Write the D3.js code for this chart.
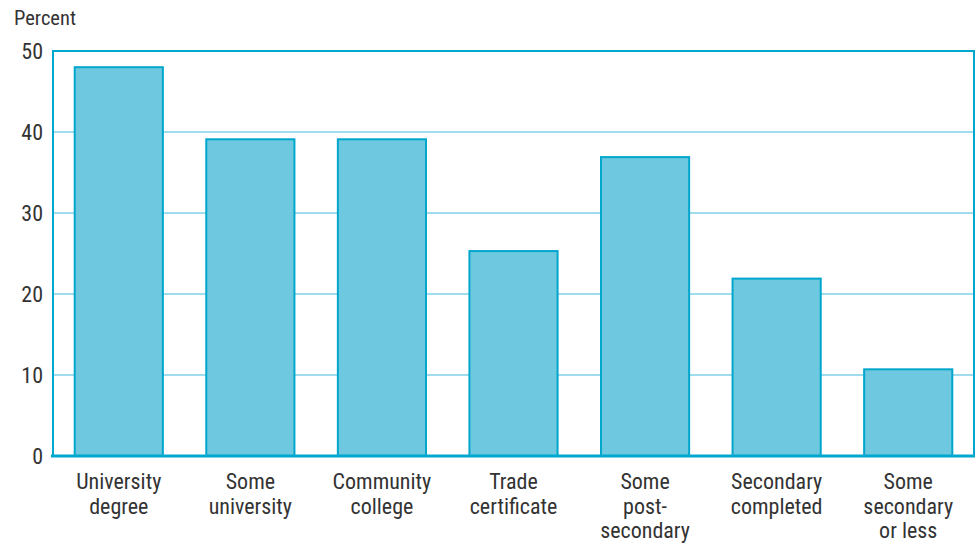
<!DOCTYPE html>
<html><head><meta charset="utf-8">
<script src="https://cdn.jsdelivr.net/npm/d3@7"></script>
<style>
body{margin:0;background:#fff;}
text{font-family:"Liberation Sans Narrow","Roboto Condensed","Arial Narrow",Roboto,sans-serif;fill:#333;}
</style></head>
<body><svg id="c" width="977" height="544"></svg>
<script>
const categories = [["University","degree"],["Some","university"],["Community","college"],["Trade","certificate"],["Some","post-","secondary"],["Secondary","completed"],["Some","secondary","or less"]];
const values = [48.0, 39.1, 39.1, 25.3, 36.9, 21.9, 10.7];
const yTicks = [0,10,20,30,40,50];

const svg = d3.select("#c");
const m = {l:53, r:974, t:51, b:456};
const x = d3.scaleBand().domain(d3.range(categories.length)).range([m.l,m.r]).paddingInner(0.33).paddingOuter(0.165);
const y = d3.scaleLinear().domain([0,50]).range([m.b,m.t]);

// gridlines
svg.append("g").selectAll("line").data(yTicks.filter(d=>d>0&&d<50)).join("line")
 .attr("x1",m.l).attr("x2",m.r).attr("y1",d=>y(d)).attr("y2",d=>y(d))
 .attr("stroke","#7fd0e8").attr("stroke-width",1.5);

// frame
svg.append("path").attr("d",`M${m.l},${m.b}V${m.t}H${m.r}V${m.b}`)
 .attr("fill","none").attr("stroke","#00a8d0").attr("stroke-width",2);

// bars
svg.append("g").selectAll("rect").data(values).join("rect")
 .attr("x",(d,i)=>x(i)).attr("width",x.bandwidth())
 .attr("y",d=>y(d)).attr("height",d=>y(0)-y(d))
 .attr("fill","#6ec9e0").attr("stroke","#00a6cc").attr("stroke-width",2);

// x axis baseline
svg.append("line").attr("x1",m.l-2).attr("x2",m.r+1).attr("y1",y(0)).attr("y2",y(0))
 .attr("stroke","#00a8d0").attr("stroke-width",3);

// y axis
const yAxis = d3.axisLeft(y).tickValues(yTicks).tickSize(0).tickPadding(10);
const gy = svg.append("g").attr("transform",`translate(${m.l},0)`).call(yAxis);
gy.select(".domain").remove();
gy.selectAll("text").attr("font-size",22).style("font-family","\"Liberation Sans Narrow\",\"Roboto Condensed\",Roboto,sans-serif").attr("fill","#333");

// x labels
const gx = svg.append("g");
categories.forEach((lines,i)=>{
  const t = gx.append("text").attr("text-anchor","middle").attr("font-size",22)
    .attr("x", x(i)+x.bandwidth()/2).attr("y", 489);
  lines.forEach((ln,j)=>t.append("tspan").attr("x",x(i)+x.bandwidth()/2).attr("dy", j===0?0:24.5).text(ln));
});

svg.append("text").attr("x",14).attr("y",25).attr("font-size",20.5).text("Percent");
</script></body></html>
